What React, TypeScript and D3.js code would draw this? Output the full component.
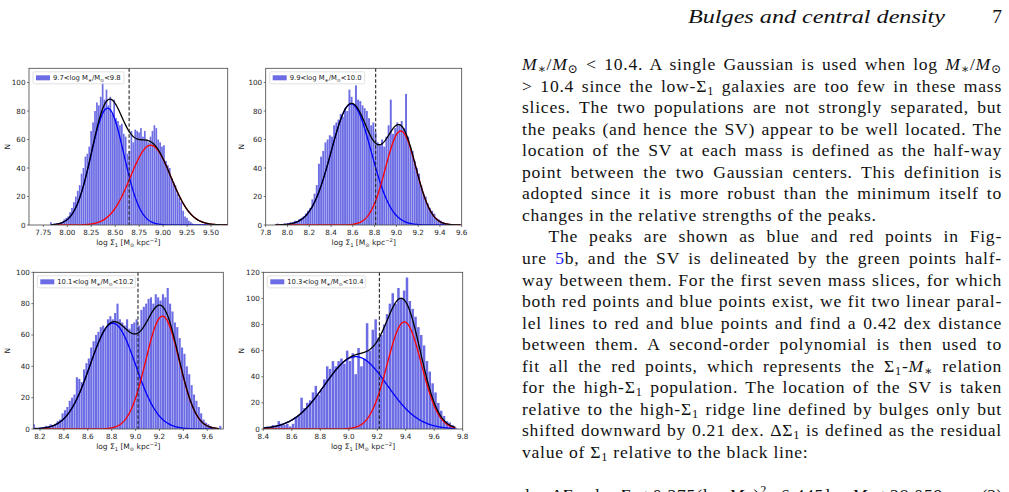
import React, { useLayoutEffect, useRef } from 'react';
import * as d3 from 'd3';

const W = 1009;
const H = 492;

// ---------------- Panel data ----------------
const p1MassRange = ['9.7', '9.8'];
const p1BinStart = 7.82;
const p1BinWidth = 0.02;
const p1Counts = [
  2, 0, 0, 0, 1, 1, 2, 4, 5, 6,
  9, 12, 16, 20, 24, 28, 36, 40, 48, 50,
  55, 66, 72, 80, 86, 84, 90, 101, 88, 95,
  84, 90, 78, 88, 75, 73, 70, 71, 64, 62,
  50, 52, 66, 58, 67, 66, 65, 68, 62, 66,
  60, 58, 62, 66, 70, 68, 60, 58, 55, 56,
  45, 42, 40, 33, 30, 28, 22, 19, 16, 10,
  6, 5, 3, 2, 1,
];
const p1Blue = [82, 8.42, 0.17]; // amplitude, centre, sigma
const p1Red = [56, 8.87, 0.21];
const p1SV = 8.645;
const p1CurveRange = [7.83, 9.67];
const p1XTicks = [7.75, 8.0, 8.25, 8.5, 8.75, 9.0, 9.25, 9.5];
const p1YTicks = [0, 20, 40, 60, 80, 100];

const p2MassRange = ['9.9', '10.0'];
const p2BinStart = 7.9;
const p2BinWidth = 0.02;
const p2Counts = [
  1, 0, 0, 1, 0, 1, 2, 1, 3, 2,
  4, 5, 6, 8, 10, 12, 18, 22, 28, 43,
  48, 52, 58, 60, 63, 62, 70, 72, 74, 78,
  76, 82, 80, 95, 90, 85, 98, 88, 87, 84,
  82, 80, 75, 70, 72, 65, 58, 56, 60, 55,
  62, 70, 88, 64, 68, 72, 70, 73, 68, 92,
  62, 55, 52, 45, 40, 36, 28, 22, 20, 15,
  12, 10, 8, 5, 4, 3, 2, 1, 1,
];
const p2Blue = [85, 8.585, 0.184];
const p2Red = [66, 9.04, 0.14];
const p2SV = 8.81;
const p2CurveRange = [7.89, 9.59];
const p2XTicks = [7.8, 8.0, 8.2, 8.4, 8.6, 8.8, 9.0, 9.2, 9.4, 9.6];
const p2YTicks = [0, 20, 40, 60, 80, 100];

const p3MassRange = ['10.1', '10.2'];
const p3BinStart = 8.14;
const p3BinWidth = 0.02;
const p3Counts = [
  3, 1, 0, 1, 1, 2, 1, 3, 2, 3,
  5, 6, 10, 12, 14, 18, 20, 22, 33, 32,
  30, 38, 42, 45, 52, 56, 60, 62, 65, 66,
  64, 70, 72, 70, 74, 80, 70, 68, 66, 70,
  64, 67, 68, 70, 66, 76, 78, 80, 83, 84,
  80, 86, 84, 82, 86, 84, 90, 80, 75, 68,
  65, 58, 52, 48, 40, 35, 28, 22, 18, 14,
  10, 6, 4, 3, 2, 1, 1, 0, 2,
];
const p3Blue = [67.5, 8.81, 0.19];
const p3Red = [72, 9.225, 0.14];
const p3SV = 9.02;
const p3CurveRange = [8.15, 9.7];
const p3XTicks = [8.2, 8.4, 8.6, 8.8, 9.0, 9.2, 9.4, 9.6];
const p3YTicks = [0, 20, 40, 60, 80, 100];

const p4MassRange = ['10.3', '10.4'];
const p4BinStart = 8.4;
const p4BinWidth = 0.02;
const p4Counts = [
  1, 2, 1, 3, 2, 6, 4, 3, 4, 2,
  4, 9, 10, 24, 16, 20, 22, 28, 33, 26,
  30, 38, 48, 46, 52, 48, 52, 54, 50, 60,
  52, 58, 42, 62, 48, 54, 81, 60, 76, 84,
  70, 72, 80, 88, 96, 104, 96, 108, 100, 106,
  116, 98, 92, 86, 78, 72, 64, 52, 44, 35,
  28, 20, 14, 10, 6, 5, 3, 1,
];
const p4Blue = [55.4, 9.05, 0.22];
const p4Red = [82, 9.39, 0.12];
const p4SV = 9.215;
const p4CurveRange = [8.4, 9.75];
const p4XTicks = [8.4, 8.6, 8.8, 9.0, 9.2, 9.4, 9.6, 9.8];
const p4YTicks = [0, 20, 40, 60, 80, 100, 120];

// ---------------- Page text ----------------
const headerTitle = 'Bulges and central density';
const headerPage = '7';
const bodyLines = [
  'M_*/M_sun < 10.4. A single Gaussian is used when log M_*/M_sun',
  '> 10.4 since the low-Σ_1 galaxies are too few in these mass',
  'slices. The two populations are not strongly separated, but',
  'the peaks (and hence the SV) appear to be well located. The',
  'location of the SV at each mass is defined as the half-way',
  'point between the two Gaussian centers. This definition is',
  'adopted since it is more robust than the minimum itself to',
  'changes in the relative strengths of the peaks.',
  'The peaks are shown as blue and red points in Fig-',
  'ure [5]b, and the SV is delineated by the green points half-',
  'way between them. For the first seven mass slices, for which',
  'both red points and blue points exist, we fit two linear paral-',
  'lel lines to red and blue points and find a 0.42 dex distance',
  'between them. A second-order polynomial is then used to',
  'fit all the red points, which represents the Σ_1-M_* relation',
  'for the high-Σ_1 population. The location of the SV is taken',
  'relative to the high-Σ_1 ridge line defined by bulges only but',
  'shifted downward by 0.21 dex. ΔΣ_1 is defined as the residual',
  'value of Σ_1 relative to the black line:',
];
const bodyJustified = [true, true, true, true, true, true, true, false, true, true, true, true, true, true, true, true, true, true, false];
const bodyIndented = [false, false, false, false, false, false, false, false, true, false, false, false, false, false, false, false, false, false, false];
const equationText = 'log ΔΣ_1 = log Σ_1 + 0.275(log M_*)^2 − 6.445 log M_* + 28.059';
const equationNumber = '(2)';

// ---------------- Layout ----------------
const panels = [
  {
    mass: p1MassRange, binStart: p1BinStart, binWidth: p1BinWidth, counts: p1Counts,
    blue: p1Blue, red: p1Red, sv: p1SV, curveRange: p1CurveRange,
    xTicks: p1XTicks, yTicks: p1YTicks, fmt: '.2f',
    xDomain: [7.6, 9.674], yDomain: [0, 110],
    frame: { l: 29, r: 227.7, t: 68.3, b: 225 }, ylabX: 10, legendW: 91,
  },
  {
    mass: p2MassRange, binStart: p2BinStart, binWidth: p2BinWidth, counts: p2Counts,
    blue: p2Blue, red: p2Red, sv: p2SV, curveRange: p2CurveRange,
    xTicks: p2XTicks, yTicks: p2YTicks, fmt: '.1f',
    xDomain: [7.8, 9.6], yDomain: [0, 110],
    frame: { l: 265.7, r: 461.7, t: 68.3, b: 225 }, ylabX: 244, legendW: 95,
  },
  {
    mass: p3MassRange, binStart: p3BinStart, binWidth: p3BinWidth, counts: p3Counts,
    blue: p3Blue, red: p3Red, sv: p3SV, curveRange: p3CurveRange,
    xTicks: p3XTicks, yTicks: p3YTicks, fmt: '.1f',
    xDomain: [8.144, 9.734], yDomain: [0, 100],
    frame: { l: 33.3, r: 223.3, t: 272.3, b: 429 }, ylabX: 10, legendW: 98,
  },
  {
    mass: p4MassRange, binStart: p4BinStart, binWidth: p4BinWidth, counts: p4Counts,
    blue: p4Blue, red: p4Red, sv: p4SV, curveRange: p4CurveRange,
    xTicks: p4XTicks, yTicks: p4YTicks, fmt: '.1f',
    xDomain: [8.4, 9.8], yDomain: [0, 120],
    frame: { l: 263.3, r: 462.7, t: 272.3, b: 429 }, ylabX: 244, legendW: 98,
  },
];

const CHART_FONT = "'DejaVu Sans', Verdana, sans-serif";
const TEXT_FONT = "'Liberation Serif', 'DejaVu Serif', serif";
const BAR_FILL = 'rgb(108,108,228)';

function gauss(g: number[], v: number) {
  return g[0] * Math.exp(-((v - g[1]) ** 2) / (2 * g[2] * g[2]));
}

function Panel({ cfg, idx }: { cfg: any; idx: number }) {
  const f = cfg.frame;
  const x = d3.scaleLinear().domain(cfg.xDomain).range([f.l, f.r]);
  const y = d3.scaleLinear().domain(cfg.yDomain).range([f.b, f.t]);
  const fmt = d3.format(cfg.fmt);
  const xs = d3.range(cfg.curveRange[0], cfg.curveRange[1] + 1e-9, 0.004);
  const mk = (fn: (v: number) => number) =>
    d3.line<number>().x((v) => x(v)).y((v) => y(fn(v)))(xs) || '';
  const bluePath = mk((v) => gauss(cfg.blue, v));
  const redPath = mk((v) => gauss(cfg.red, v));
  const blackPath = mk((v) => gauss(cfg.blue, v) + gauss(cfg.red, v));
  const clipId = `clip${idx}`;
  const lx = f.l + 4;
  const ly = f.t + 3.5;
  const fs = 7.2;
  return (
    <g style={{ fontFamily: CHART_FONT }}>
      <defs>
        <clipPath id={clipId}>
          <rect x={f.l} y={f.t} width={f.r - f.l} height={f.b - f.t} />
        </clipPath>
      </defs>
      <g clipPath={`url(#${clipId})`}>
        {cfg.counts.map((c: number, i: number) => {
          const x0 = cfg.binStart + i * cfg.binWidth;
          const px0 = x(x0);
          const px1 = x(x0 + cfg.binWidth);
          if (c <= 0) return null;
          return (
            <rect key={i} x={px0} y={y(c)} width={(px1 - px0) * 0.88} height={y(0) - y(c)} fill={BAR_FILL} />
          );
        })}
        <path d={bluePath} fill="none" stroke="#0000ff" strokeWidth={1.3} />
        <path d={redPath} fill="none" stroke="#ff0000" strokeWidth={1.3} />
        <path d={blackPath} fill="none" stroke="#000" strokeWidth={1.3} />
        <line x1={x(cfg.sv)} x2={x(cfg.sv)} y1={f.t} y2={f.b} stroke="#222" strokeWidth={1.1} strokeDasharray="3.5,2" />
      </g>
      <rect x={f.l} y={f.t} width={f.r - f.l} height={f.b - f.t} fill="none" stroke="#444" strokeWidth={0.8} />
      {cfg.xTicks.map((t: number) => (
        <g key={'x' + t}>
          <line x1={x(t)} x2={x(t)} y1={f.b} y2={f.b + 2} stroke="#444" strokeWidth={0.7} />
          <text x={x(t)} y={f.b + 9.5} fontSize={fs} textAnchor="middle" fill="#222">{fmt(t)}</text>
        </g>
      ))}
      {cfg.yTicks.map((t: number) => (
        <g key={'y' + t}>
          <line x1={f.l - 2} x2={f.l} y1={y(t)} y2={y(t)} stroke="#444" strokeWidth={0.7} />
          <text x={f.l - 3.5} y={y(t) + 2.5} fontSize={fs} textAnchor="end" fill="#222">{t}</text>
        </g>
      ))}
      <text x={(f.l + f.r) / 2} y={f.b + 19.5} fontSize={7.5} textAnchor="middle" fill="#222">
        log Σ<tspan fontSize={5.2} baselineShift="-1.8">1</tspan> [M<tspan fontSize={5.2} baselineShift="-1.8">⊙</tspan> kpc<tspan fontSize={5.2} baselineShift="3">−2</tspan>]
      </text>
      <text transform={`translate(${cfg.ylabX},${(f.t + f.b) / 2}) rotate(-90)`} fontSize={7.5} textAnchor="middle" fill="#222">N</text>
      <rect x={lx} y={ly} width={cfg.legendW} height={12} rx={1.5} fill="#fff" fillOpacity={0.85} stroke="#ccc" strokeWidth={0.6} />
      <rect x={lx + 3} y={ly + 3.5} width={14} height={5} fill={BAR_FILL} />
      <text x={lx + 20} y={ly + 8.4} fontSize={6.8} fill="#222">
        {cfg.mass[0]}&lt;log M<tspan fontSize={4.8} baselineShift="-1.5">∗</tspan>/M<tspan fontSize={4.8} baselineShift="-1.5">⊙</tspan>&lt;{cfg.mass[1]}
      </text>
    </g>
  );
}

function rich(s: string, size: number) {
  const parts = s.split(/(M_\*|M_sun|Σ_1|\^2|\[5\])/);
  const sub = size * 0.7;
  const out: any[] = [];
  parts.forEach((p, i) => {
    if (p === '') return;
    if (p === 'M_*') {
      out.push(<tspan key={i + 'a'} fontStyle="italic">M</tspan>);
      out.push(<tspan key={i + 'b'} fontSize={sub} baselineShift={-size * 0.18}>∗</tspan>);
    } else if (p === 'M_sun') {
      out.push(<tspan key={i + 'a'} fontStyle="italic">M</tspan>);
      out.push(<tspan key={i + 'b'} fontSize={sub} baselineShift={-size * 0.18}>⊙</tspan>);
    } else if (p === 'Σ_1') {
      out.push(<tspan key={i + 'a'}>Σ</tspan>);
      out.push(<tspan key={i + 'b'} fontSize={sub} baselineShift={-size * 0.18}>1</tspan>);
    } else if (p === '^2') {
      out.push(<tspan key={i} fontSize={sub} baselineShift={size * 0.4}>2</tspan>);
    } else if (p === '[5]') {
      out.push(<tspan key={i} fill="#2020ff">5</tspan>);
    } else {
      out.push(<tspan key={i}>{p}</tspan>);
    }
  });
  return out;
}

const LETTER_SP = 0.75;

function Line({ x, y, width, justify, size, text }: any) {
  const ref = useRef<SVGTextElement>(null);
  useLayoutEffect(() => {
    const el = ref.current;
    if (!el || !justify) return;
    el.style.wordSpacing = '0px';
    const len = el.getComputedTextLength();
    const spaces = ((el.textContent || '').match(/ /g) || []).length;
    if (spaces > 0) el.style.wordSpacing = `${(width - len) / spaces}px`;
  }, [x, y, width, justify, size, text]);
  return (
    <text
      ref={ref}
      x={x}
      y={y}
      fill="#111"
      style={{ fontFamily: TEXT_FONT, fontSize: `${size}px`, letterSpacing: `${LETTER_SP}px`, whiteSpace: 'pre' }}
    >
      {rich(text, size)}
    </text>
  );
}

export default function App() {
  const textLeft = 522;
  const textRight = 1002;
  const firstBase = 70;
  const lineGap = 21.55;
  const size = 17.6;
  return (
    <svg width={W} height={H} style={{ position: 'absolute', left: 0, top: 0, background: '#fff' }}>
      <rect x={0} y={0} width={W} height={H} fill="#fff" />
      {panels.map((p, i) => (
        <Panel key={i} cfg={p} idx={i} />
      ))}
      <text
        x={688}
        y={22.5}
        fill="#111"
        textLength={257}
        lengthAdjust="spacingAndGlyphs"
        style={{ fontFamily: TEXT_FONT, fontSize: '19.5px', fontStyle: 'italic' }}
      >
        {headerTitle}
      </text>
      <text x={1002} y={22.5} textAnchor="end" fill="#111" style={{ fontFamily: TEXT_FONT, fontSize: '19.5px' }}>
        {headerPage}
      </text>
      {bodyLines.map((t, i) => {
        const x0 = bodyIndented[i] ? 548.5 : textLeft;
        return (
          <Line key={i} x={x0} y={firstBase + i * lineGap} width={textRight - x0} justify={bodyJustified[i]} size={size} text={t} />
        );
      })}
      <Line x={525} y={500.5} width={943 - 525} justify={true} size={size} text={equationText} />
      <text x={1002} y={500.5} textAnchor="end" fill="#111" style={{ fontFamily: TEXT_FONT, fontSize: `${size}px` }}>
        {equationNumber}
      </text>
    </svg>
  );
}
